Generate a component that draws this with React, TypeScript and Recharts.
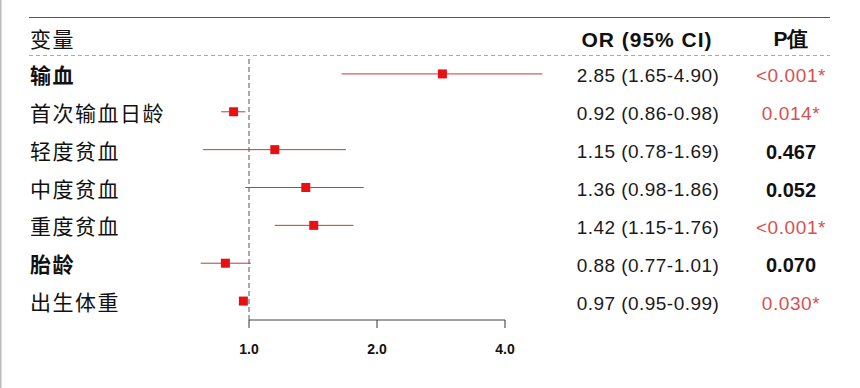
import React from 'react';
import { ScatterChart, Scatter, XAxis, YAxis, ErrorBar, ReferenceLine } from 'recharts';

const labels = ['输血', '首次输血日龄', '轻度贫血', '中度贫血', '重度贫血', '胎龄', '出生体重'];
const orValues = [2.85, 0.92, 1.15, 1.36, 1.42, 0.88, 0.97];
const ciLow = [1.65, 0.86, 0.78, 0.98, 1.15, 0.77, 0.95];
const ciHigh = [4.9, 0.98, 1.69, 1.86, 1.76, 1.01, 0.99];
const pLabels = ['<0.001*', '0.014*', '0.467', '0.052', '<0.001*', '0.070', '0.030*'];
const xTicks = [1, 2, 4];
const headers = { variable: '变量', or: 'OR (95% CI)', p: 'P值' };

const rows = labels.map((label, i) => ({
  row: i,
  or: orValues[i],
  err: [orValues[i] - ciLow[i], ciHigh[i] - orValues[i]],
  label,
  orText: `${orValues[i].toFixed(2)} (${ciLow[i].toFixed(2)}-${ciHigh[i].toFixed(2)})`,
  p: pLabels[i],
}));

const boldLabels = new Set(['输血', '胎龄']);
const CJK = '"Noto Sans CJK SC", "Noto Sans", sans-serif';
const LAT = '"Liberation Sans", Arial, sans-serif';

const RowTick = (props: any) => {
  const { y, payload } = props;
  const r = rows[payload.value];
  if (!r) return null;
  const sig = r.p.includes('*');
  return (
    <g>
      <text x={30} y={y} dominantBaseline="central" fontFamily={CJK} fontSize={21} letterSpacing={1.5}
        fontWeight={boldLabels.has(r.label) ? 700 : 400} fill="#111">{r.label}</text>
      <text x={648} y={y + 2} dominantBaseline="central" textAnchor="middle" fontFamily={LAT} fontSize={19}
        letterSpacing={0.45} fill="#1a1a1a">{r.orText}</text>
      <text x={791} y={y + 2} dominantBaseline="central" textAnchor="middle" fontFamily={LAT}
        fontSize={sig ? 19 : 20} fontWeight={sig ? 400 : 700} letterSpacing={sig ? 0.6 : 0}
        fill={sig ? '#d65050' : '#111'}>{r.p}</text>
    </g>
  );
};

const XTick = (props: any) => {
  const { x, y, payload } = props;
  return (
    <text x={x} y={y} dy="0.71em" textAnchor="middle" fontFamily={LAT} fontSize={14} fontWeight={700} fill="#111">
      {Number(payload.value).toFixed(1)}
    </text>
  );
};

const Square = (props: any) => {
  const { cx, cy } = props;
  return <rect x={cx - 4.5} y={cy - 4.5} width={9} height={9} fill="#e81010" />;
};

export default function App() {
  return (
    <div style={{ position: 'absolute', left: 0, top: 0, width: 860, height: 388, background: '#fff' }}>
      <ScatterChart width={860} height={388} margin={{ top: 55, right: 227, bottom: 38, left: 0 }}>
        <XAxis type="number" dataKey="or" scale="log" domain={[0.5, 8]} allowDataOverflow ticks={xTicks}
          axisLine={false} tickSize={8} tickMargin={16} height={30}
          tickLine={{ stroke: '#333' }} interval={0}
          tick={<XTick />} />
        <YAxis yAxisId="left" type="number" dataKey="row" domain={[-0.5, 6.5]} allowDataOverflow reversed
          ticks={[0, 1, 2, 3, 4, 5, 6]} width={121} axisLine={false} tickLine={false} tick={<RowTick />} interval={0} />
        <ReferenceLine yAxisId="left" x={1} stroke="#555" strokeDasharray="5 3" />
        <ReferenceLine yAxisId="left" segment={[{ x: 1, y: 6.5 }, { x: 4, y: 6.5 }]} stroke="#444" ifOverflow="visible" />
        <Scatter yAxisId="left" data={rows} shape={<Square />} isAnimationActive={false}>
          <ErrorBar dataKey="err" direction="x" width={0} stroke="#c03a3a" strokeWidth={1} isAnimationActive={false} />
        </Scatter>
      </ScatterChart>
      <svg width={860} height={388} style={{ position: 'absolute', left: 0, top: 0, pointerEvents: 'none' }}>
        <line x1={0.5} y1={0} x2={0.5} y2={388} stroke="#bbb" strokeWidth={2} />
        <line x1={29} y1={17.5} x2={830} y2={17.5} stroke="#555" strokeWidth={1} />
        <line x1={29} y1={55.5} x2={830} y2={55.5} stroke="#aaa" strokeWidth={1} strokeDasharray="4 3" />
        <text x={30} y={38} dominantBaseline="central" fontFamily={CJK} fontSize={21} letterSpacing={1.5} fill="#111">{headers.variable}</text>
        <text x={647} y={39} dominantBaseline="central" textAnchor="middle" fontFamily={LAT} fontSize={21} fontWeight={700} letterSpacing={1} fill="#111">{headers.or}</text>
        <text x={791} y={38} dominantBaseline="central" textAnchor="middle" fontFamily={LAT} fontSize={21} fontWeight={700} fill="#111">{headers.p}</text>
      </svg>
    </div>
  );
}
